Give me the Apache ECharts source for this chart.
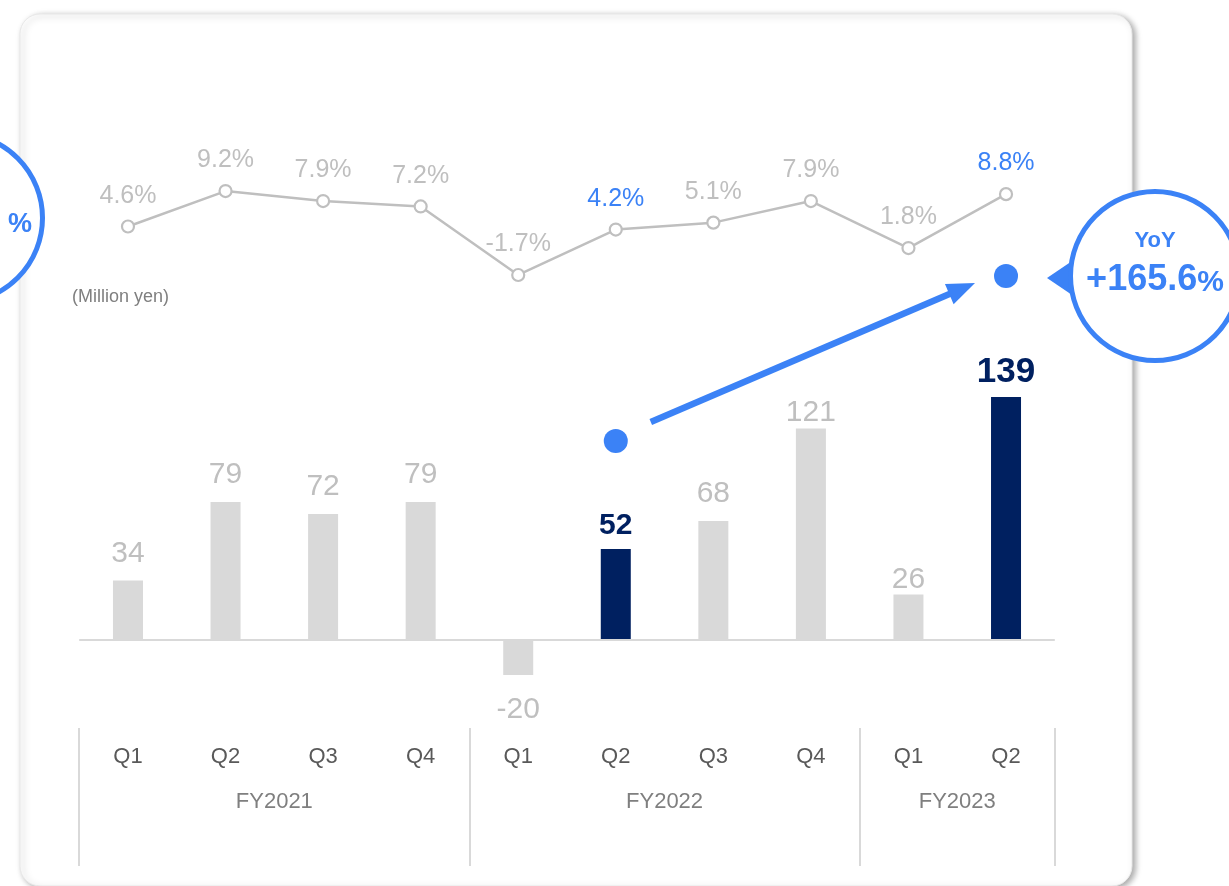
<!DOCTYPE html>
<html>
<head>
<meta charset="utf-8">
<script src="https://cdn.jsdelivr.net/npm/echarts@6/dist/echarts.min.js"></script>
<style>
  html, body { margin: 0; padding: 0; background: #ffffff; }
  #chart { width: 1229px; height: 886px; }
</style>
</head>
<body>
<div id="chart"></div>
<script>
// Quarterly operating profit (million yen) and operating margin (%)
const quarters = ['Q1', 'Q2', 'Q3', 'Q4', 'Q1', 'Q2', 'Q3', 'Q4', 'Q1', 'Q2'];
const fiscalYears = ['FY2021', 'FY2022', 'FY2023'];
const fiscalYearSpans = [[0, 3], [4, 7], [8, 9]];
const profit = [34, 79, 72, 79, -20, 52, 68, 121, 26, 139];
const margin = [4.6, 9.2, 7.9, 7.2, -1.7, 4.2, 5.1, 7.9, 1.8, 8.8];
const highlightedBars = [5, 9];
const highlightedMargins = [5, 9];
const unitLabel = '(Million yen)';
const yoyTitle = 'YoY';
const yoyValue = '+165.6';

// Label spacing above/below each bar (px)
const barLabelDistance = [12, 12, 12, 12, 20, 8, 12, 1, 0, 7];

const FONT = "'Liberation Sans', Arial, Helvetica, sans-serif";
const GREY_BAR = '#d9d9d9';
const NAVY = '#002060';
const BLUE = '#3b82f6';
const GREY_TEXT = '#bfbfbf';

const chart = echarts.init(document.getElementById('chart'), null, { renderer: 'canvas' });

const barData = profit.map((v, i) => {
  const hi = highlightedBars.includes(i);
  return {
    value: v,
    itemStyle: { color: hi ? NAVY : GREY_BAR },
    label: {
      position: v < 0 ? 'bottom' : 'top',
      distance: barLabelDistance[i],
      color: hi ? NAVY : GREY_TEXT,
      fontWeight: hi ? 'bold' : 'normal',
      fontSize: hi ? (v > 100 ? 35 : 30) : 30
    }
  };
});

const marginData = margin.map((v, i) => ({
  value: v,
  label: { color: highlightedMargins.includes(i) ? BLUE : GREY_TEXT }
}));

const gridLeft = 79.2, gridRight = 174.2;

chart.setOption({
  animation: false,
  textStyle: { fontFamily: FONT },
  grid: [
    { left: gridLeft, right: gridRight, top: 184.9, height: 92.4 },
    { left: gridLeft, right: gridRight, top: 360.3, height: 349.6 }
  ],
  xAxis: [
    {
      type: 'category', gridIndex: 0, data: quarters,
      show: false
    },
    {
      type: 'category', gridIndex: 1, data: quarters,
      position: 'bottom', offset: 18,
      axisLine: { show: false, onZero: false },
      axisTick: {
        show: true, length: 138, alignWithLabel: false,
        interval: (i) => fiscalYearSpans.some(s => s[0] === i),
        lineStyle: { color: '#d9d9d9', width: 2 }
      },
      axisLabel: { margin: 18, fontSize: 22, color: '#595959', fontFamily: FONT, interval: 0 }
    }
  ],
  yAxis: [
    { type: 'value', gridIndex: 0, min: -2, max: 10, show: false },
    { type: 'value', gridIndex: 1, min: -40, max: 160, show: false }
  ],
  series: [
    {
      type: 'line', xAxisIndex: 0, yAxisIndex: 0,
      data: marginData,
      symbol: 'circle', symbolSize: 12,
      itemStyle: { color: '#ffffff', borderColor: '#bfbfbf', borderWidth: 2.2 },
      lineStyle: { color: '#bfbfbf', width: 2.5 },
      label: {
        show: true, position: 'top', distance: 11,
        fontSize: 25, fontFamily: FONT,
        formatter: (p) => p.value.toFixed(1) + '%'
      },
      z: 3
    },
    {
      type: 'bar', xAxisIndex: 1, yAxisIndex: 1,
      data: barData,
      barWidth: 30,
      label: { show: true, fontFamily: FONT },
      markLine: {
        silent: true, symbol: 'none',
        label: { show: false },
        lineStyle: { color: '#d9d9d9', width: 2, type: 'solid' },
        data: [{ yAxis: 0 }]
      },
      z: 2
    }
  ]
});

// Decorations placed from the category axis positions
const catX = (i) => chart.convertToPixel({ xAxisIndex: 1 }, i);

const dotA = [catX(highlightedBars[0]), 441];
const dotB = [catX(highlightedBars[1]), 276];

// Arrow between the two highlighted quarters
const arrowStart = [dotA[0] + 35, 422];
const arrowTip = [dotB[0] - 31, 283];
const dx = arrowTip[0] - arrowStart[0], dy = arrowTip[1] - arrowStart[1];
const len = Math.hypot(dx, dy);
const ux = dx / len, uy = dy / len, nx = -uy, ny = ux;
const headLen = 28, headHalf = 11;
const headBase = [arrowTip[0] - ux * headLen, arrowTip[1] - uy * headLen];

const fyTexts = fiscalYears.map((fy, k) => {
  const [a, b] = fiscalYearSpans[k];
  const cx = (catX(a) + catX(b)) / 2;
  return {
    type: 'text', z: 5,
    x: cx, y: 802,
    style: {
      text: fy, fill: '#7f7f7f', font: '22px ' + FONT,
      align: 'center', verticalAlign: 'middle'
    }
  };
});

const circleR = { cx: 1155, cy: 276, r: 84.5 };
const circleL = { cx: -42, cy: 218, r: 84.5 };

chart.setOption({
  graphic: [
    {
      type: 'rect', z: -10, silent: true,
      shape: { x: 20, y: 14, width: 1112, height: 872, r: 20 },
      style: {
        fill: '#ffffff', stroke: '#e8e8e8', lineWidth: 1,
        shadowBlur: 6, shadowOffsetX: 3, shadowOffsetY: 2,
        shadowColor: 'rgba(0,0,0,0.35)'
      }
    },
    {
      type: 'text', z: 5, x: 72, y: 297,
      style: { text: unitLabel, fill: '#7f7f7f', font: '18px ' + FONT, verticalAlign: 'middle' }
    },
    ...fyTexts,
    {
      type: 'circle', z: 6, shape: { cx: dotA[0], cy: dotA[1], r: 12 },
      style: { fill: BLUE }
    },
    {
      type: 'circle', z: 6, shape: { cx: dotB[0], cy: dotB[1], r: 12 },
      style: { fill: BLUE }
    },
    {
      type: 'line', z: 6,
      shape: { x1: arrowStart[0], y1: arrowStart[1], x2: headBase[0] + ux * 4, y2: headBase[1] + uy * 4 },
      style: { stroke: BLUE, lineWidth: 6.5, lineCap: 'butt' }
    },
    {
      type: 'polygon', z: 6,
      shape: {
        points: [
          arrowTip,
          [headBase[0] + nx * headHalf, headBase[1] + ny * headHalf],
          [headBase[0] - nx * headHalf, headBase[1] - ny * headHalf]
        ]
      },
      style: { fill: BLUE }
    },
    // YoY callout on the right
    {
      type: 'polygon', z: 7,
      shape: { points: [[1047, 278], [1078, 257], [1078, 299]] },
      style: { fill: BLUE }
    },
    {
      type: 'circle', z: 8, shape: circleR,
      style: { fill: '#ffffff', stroke: BLUE, lineWidth: 5 }
    },
    {
      type: 'text', z: 9, x: 1155, y: 241,
      style: { text: yoyTitle, fill: BLUE, font: 'bold 22px ' + FONT, align: 'center', verticalAlign: 'middle' }
    },
    {
      type: 'text', z: 9, x: 1155, y: 280,
      style: {
        text: '{v|' + yoyValue + '}{p|%}',
        align: 'center', verticalAlign: 'middle',
        rich: {
          v: { fill: BLUE, font: 'bold 36px ' + FONT, verticalAlign: 'bottom' },
          p: { fill: BLUE, font: 'bold 30px ' + FONT, verticalAlign: 'bottom' }
        }
      }
    },
    // Partial callout on the left edge
    {
      type: 'circle', z: 8, shape: circleL,
      style: { fill: '#ffffff', stroke: BLUE, lineWidth: 5 }
    },
    {
      type: 'text', z: 9, x: 20, y: 225,
      style: { text: '%', fill: BLUE, font: 'bold 27px ' + FONT, align: 'center', verticalAlign: 'middle' }
    }
  ]
});
</script>
</body>
</html>
